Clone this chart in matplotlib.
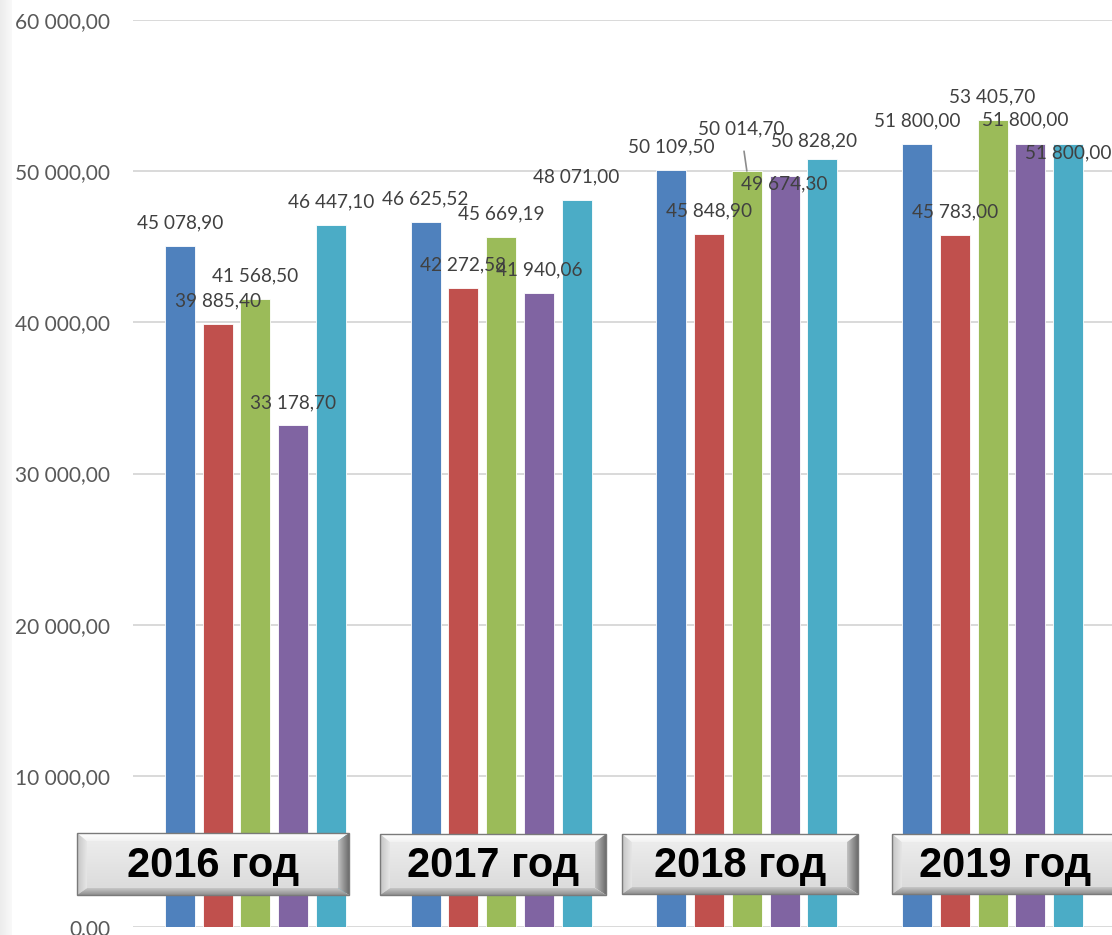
import numpy as np
import matplotlib
matplotlib.use('Agg')
import matplotlib.pyplot as plt
from matplotlib.patches import Polygon, Rectangle
from matplotlib.colors import LinearSegmentedColormap

years = ['2016 год', '2017 год', '2018 год', '2019 год']
s1 = [45078.90, 46625.52, 50109.50, 51800.00]
s2 = [39885.40, 42272.58, 45848.90, 45783.00]
s3 = [41568.50, 45669.19, 50014.70, 53405.70]
s4 = [33178.70, 41940.06, 49674.30, 51800.00]
s5 = [46447.10, 48071.00, 50828.20, 51800.00]
series = [s1, s2, s3, s4, s5]
colors = ['#4F81BD', '#C0504D', '#9BBB59', '#8064A2', '#4BACC6']

yticks = [0, 10000, 20000, 30000, 40000, 50000, 60000]

W, H = 1112, 935
DPI = 100

# label offsets in pixels (dx, dy) from bar top, where labels were moved by hand
moved = {(2, 2): (-6, 42), (3, 2): (0, -8), (4, 2): (-8, 18),
         (3, 3): (-5, 24), (4, 3): (0, -9)}


def fmt(v):
  return '{:,.2f}'.format(v).replace(',', ' ').replace('.', ',')


fig = plt.figure(figsize=(W / DPI, H / DPI), dpi=DPI)
fig.patch.set_facecolor('white')

ax = fig.add_axes([132.6 / W, 1 - 927 / H, 982.8 / W, 907 / H])
ax.set_xlim(-0.5, 3.5)
ax.set_ylim(0, 60000)
for sp in ax.spines.values():
  sp.set_visible(False)
ax.set_yticks(yticks)
ax.set_yticklabels([fmt(t) for t in yticks], fontsize=15, color='#595959',
                   family='Lato')
ax.tick_params(axis='y', length=0, pad=16)
ax.set_xticks([])
ax.yaxis.grid(True, color='#d9d9d9', lw=1.4)
ax.set_axisbelow(True)
ax.patch.set_alpha(0)

x = np.arange(len(years))
pitch = 0.1536
width = 0.122
for i, (vals, c) in enumerate(zip(series, colors)):
  xs = x + (i - 2) * pitch
  ax.bar(xs, vals, width, color=c, edgecolor='white', linewidth=0.6, zorder=2)
  for j, v in enumerate(vals):
    dx, dy = moved.get((i, j), (0, 23))
    kw = {}
    if (i, j) == (2, 2):
      kw['arrowprops'] = dict(arrowstyle='-', color='#8c8c8c', lw=1.2,
                              shrinkA=8, shrinkB=0)
    ax.annotate(fmt(v), (xs[j], v), xytext=(dx * 0.72, dy * 0.72),
                textcoords='offset points', ha='center', va='center',
                fontsize=13.7, color='#404040', family='Lato', zorder=4, **kw)

# overlay in pixel coordinates for the year buttons and the left strip
ov = fig.add_axes([0, 0, 1, 1], zorder=5)
ov.set_xlim(0, W)
ov.set_ylim(H, 0)
ov.axis('off')
ov.patch.set_alpha(0)

strip = np.linspace(0, 1, 20).reshape(1, -1)
ov.imshow(strip, extent=(0, 12, H, 0), aspect='auto',
          cmap=LinearSegmentedColormap.from_list('s', ['#ececec', '#f9f9f9']))


def grad(pts, c_from, c_to, ext, horizontal):
  cm = LinearSegmentedColormap.from_list('g', [c_from, c_to])
  g = np.linspace(0, 1, 64)
  img = g.reshape(1, -1) if horizontal else g.reshape(-1, 1)
  poly = Polygon(pts, closed=True, facecolor='none', edgecolor='none')
  ov.add_patch(poly)
  im = ov.imshow(img, extent=ext, aspect='auto', cmap=cm, interpolation='bilinear')
  im.set_clip_path(poly)


def button(x0, y0, x1, y1, text, tx=None):
  bl, bt, br, bb = 10, 8, 11, 7
  ix0, iy0, ix1, iy1 = x0 + bl, y0 + bt, x1 - br, y1 - bb
  # top, left, right, bottom bevels
  grad([(x0, y0), (x1, y0), (ix1, iy0), (ix0, iy0)], '#ffffff', '#f2f2f2',
       (x0, x1, iy0, y0), False)
  grad([(x0, y0), (ix0, iy0), (ix0, iy1), (x0, y1)], '#c4c4c4', '#e6e6e6',
       (x0, ix0, y1, y0), True)
  grad([(x1, y0), (x1, y1), (ix1, iy1), (ix1, iy0)], '#c2c2c2', '#6c6c6c',
       (ix1, x1, y1, y0), True)
  grad([(x0, y1), (ix0, iy1), (ix1, iy1), (x1, y1)], '#c8c8c8', '#8e8e8e',
       (x0, x1, y1, iy1), False)
  # face
  grad([(ix0, iy0), (ix1, iy0), (ix1, iy1), (ix0, iy1)], '#ececec', '#dcdcdc',
       (ix0, ix1, iy1, iy0), False)
  ov.add_patch(Rectangle((x0, y0), x1 - x0, y1 - y0, facecolor='none',
                         edgecolor='#7a7a7a', lw=1.0))
  if tx is None:
    tx = (x0 + x1) / 2
  ov.text(tx, (y0 + y1) / 2 + 2, text, ha='center', va='center',
          fontsize=30, fontweight='bold', family='Liberation Sans',
          color='black')


boxes = [(77, 833, 349, 895, None), (380, 834, 606, 895, None),
         (622, 834, 858, 894, None), (892, 834, 1135, 894, 1005)]
for b, t in zip(boxes, years):
  button(*b[:4], t, b[4])

ov.set_xlim(0, W)
ov.set_ylim(H, 0)

fig.savefig('out.png', dpi=DPI)
